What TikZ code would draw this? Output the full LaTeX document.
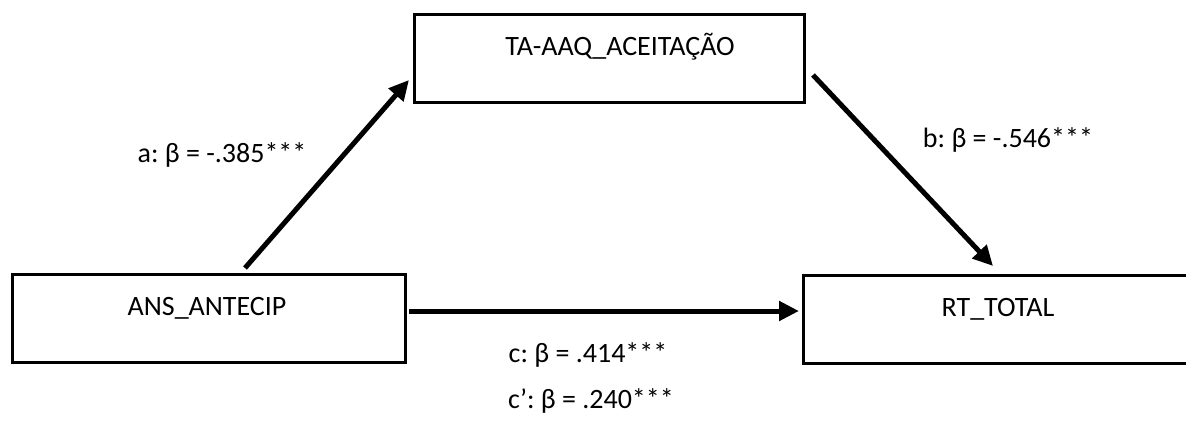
\documentclass[tikz,border=0pt]{standalone}
\usepackage{fontspec}
\setmainfont{Carlito}
\frenchspacing
\usetikzlibrary{arrows.meta}
\begin{document}
\begin{tikzpicture}[x=1pt,y=-1pt,
  varbox/.style={draw,line width=2.6pt,minimum width=#1,minimum height=88pt,inner sep=0pt,anchor=north west},
  vartext/.style={font=\fontsize{28}{32}\selectfont,inner sep=0pt},
  coef/.style={font=\fontsize{28}{32}\selectfont,inner sep=0pt},
  path/.style={line width=5pt,-{Triangle[length=20pt,width=19pt]}}]
  \useasboundingbox (0,0) rectangle (1186,425);
  % variable boxes
  \node[varbox=390pt] (med) at (413,13) {};
  \node[varbox=393pt] (pred) at (11,273) {};
  \node[varbox=410pt] (out) at (802,274) {};
  % variable names
  \node[vartext] (medname) at (620,47) {TA-AAQ\_ACEITAÇÃO};
  \node[vartext] (predname) at (207,308) {ANS\_ANTECIP};
  \node[vartext] (outname) at (998,309) {RT\_TOTAL};
  % path end points
  \coordinate (a0) at (245,268);
  \coordinate (a1) at (409,80);
  \coordinate (b0) at (813,75);
  \coordinate (b1) at (993,266);
  \coordinate (c0) at (409,311);
  \coordinate (c1) at (799,311);
  \draw[path] (a0) -- (a1);
  \draw[path] (b0) -- (b1);
  \draw[path] (c0) -- (c1);
  % coefficients
  \node[coef] (alab) at (222,155) {a: β = -.385***};
  \node[coef] (blab) at (1008,140) {b: β = -.546***};
  \node[coef] (clab) at (588,355) {c: β = .414***};
  \node[coef] (cplab) at (591,401) {c’: β = .240***};
\end{tikzpicture}
\end{document}
